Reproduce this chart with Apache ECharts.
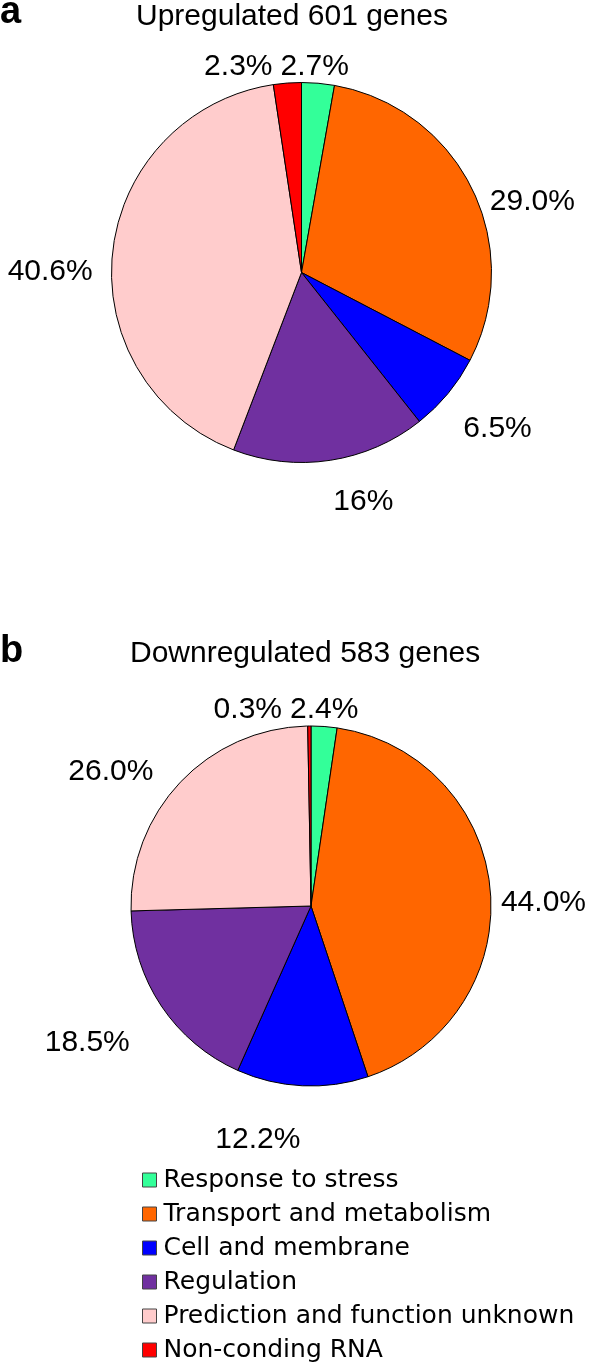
<!DOCTYPE html>
<html>
<head>
<meta charset="utf-8">
<script src="https://cdn.jsdelivr.net/npm/echarts@6/dist/echarts.min.js"></script>
<style>
html,body{margin:0;padding:0;background:#fff;}
#chart{width:590px;height:1367px;}
</style>
</head>
<body>
<div id="chart"></div>
<script>
const categories = ['Response to stress','Transport and metabolism','Cell and membrane','Regulation','Prediction and function unknown','Non-conding RNA'];
const colors = ['#33FF99','#FF6600','#0000FF','#7030A0','#FFCCCC','#FF0000'];
const upValues = [2.7, 29.0, 6.5, 16, 40.6, 2.3];
const upLabels = ['2.7%','29.0%','6.5%','16%','40.6%','2.3%'];
const downValues = [2.4, 44.0, 12.2, 18.5, 26.0, 0.3];
const downLabels = ['2.4%','44.0%','12.2%','18.5%','26.0%','0.3%'];

const W = 590;
const chart = echarts.init(document.getElementById('chart'), null, {renderer:'canvas'});

function makeLayout(values, cx, cy, r, gap, drop) {
  const total = values.reduce((a,b)=>a+b,0);
  return function (p) {
    let before = 0;
    for (let k = 0; k < p.dataIndex; k++) before += values[k];
    const mid = (before + values[p.dataIndex] / 2) / total * Math.PI * 2;
    const s = Math.sin(mid), c = Math.cos(mid);
    const w = p.labelRect ? p.labelRect.width : 0;
    const R = r + gap;
    if (c > 0.9) {
      // small slices at the top: labels sit side by side above the pie
      return {
        x: cx - 25 + (s >= 0 ? 4 : -4),
        y: cy - r - 16,
        align: s >= 0 ? 'left' : 'right',
        verticalAlign: 'middle',
        hideOverlap: false
      };
    }
    let x = cx + R * s;
    if (s >= 0) x = Math.min(x, W - w - 4);
    else x = Math.max(x, w + 4);
    return {
      x: x,
      y: cy - R * c + drop,
      align: s >= 0 ? 'left' : 'right',
      verticalAlign: 'middle',
      hideOverlap: false
    };
  };
}

function pieSeries(values, labels, cx, cy, r, gap, drop) {
  return {
    type: 'pie',
    center: [cx, cy],
    radius: [0, r],
    startAngle: 90,
    clockwise: true,
    avoidLabelOverlap: false,
    animation: false,
    silent: true,
    itemStyle: { borderColor: '#000', borderWidth: 1 },
    label: {
      show: true,
      position: 'outside',
      fontFamily: 'Liberation Sans, Arial, sans-serif',
      fontSize: 30,
      color: '#000',
      formatter: p => labels[p.dataIndex]
    },
    labelLine: { show: false },
    labelLayout: makeLayout(values, cx, cy, r, gap, drop),
    data: categories.map((n, i) => ({ name: n, value: values[i], itemStyle: { color: colors[i] } }))
  };
}

const titleFont = 'Liberation Sans, Arial, sans-serif';
chart.setOption({
  backgroundColor: '#fff',
  animation: false,
  title: [
    { text: 'a', left: 0, top: 3, padding: 0, textStyle: { fontFamily: titleFont, fontWeight: 'bold', fontSize: 38, lineHeight: 20, color: '#000' } },
    { text: 'Upregulated 601 genes', left: 136, top: 2, padding: 0, textStyle: { fontFamily: titleFont, fontWeight: 'normal', fontSize: 30, lineHeight: 30, color: '#000' } },
    { text: 'b', left: 0, top: 642, padding: 0, textStyle: { fontFamily: titleFont, fontWeight: 'bold', fontSize: 38, lineHeight: 20, color: '#000' } },
    { text: 'Downregulated 583 genes', left: 130, top: 639, padding: 0, textStyle: { fontFamily: titleFont, fontWeight: 'normal', fontSize: 30, lineHeight: 30, color: '#000' } }
  ],
  legend: {
    orient: 'vertical',
    left: 142,
    top: 1165,
    padding: 0,
    itemWidth: 14,
    itemHeight: 14,
    itemGap: 4,
    icon: 'rect',
    selectedMode: false,
    itemStyle: { borderColor: '#444', borderWidth: 1 },
    textStyle: { fontFamily: 'DejaVu Sans, sans-serif', fontSize: 25, lineHeight: 30, color: '#000', padding: [0,0,0,2] },
    data: categories
  },
  series: [
    pieSeries(upValues, upLabels, 301.5, 272.5, 190, 20, 22),
    pieSeries(downValues, downLabels, 311, 906, 180, 38, 16)
  ]
});
</script>
</body>
</html>
